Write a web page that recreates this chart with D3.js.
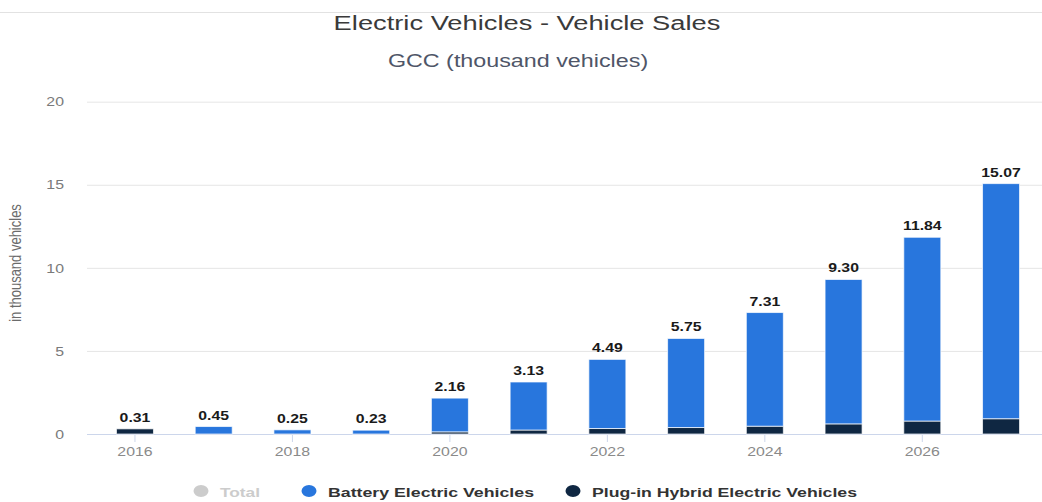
<!DOCTYPE html>
<html>
<head>
<meta charset="utf-8">
<script src="https://cdn.jsdelivr.net/npm/d3@7/dist/d3.min.js"></script>
<style>
  html, body { margin: 0; padding: 0; background: #fff; }
  svg { display: block; font-family: "Liberation Sans", Arial, Helvetica, sans-serif; }
</style>
</head>
<body>
<svg id="chart" width="1042" height="502"></svg>
<script>
// Annual EV sales in the GCC, thousand vehicles
const years = ["2016","2017","2018","2019","2020","2021","2022","2023","2024","2025","2026","2027"];
const bevSales  = [0.00, 0.45, 0.25, 0.23, 2.03, 2.89, 4.16, 5.36, 6.84, 8.69, 11.06, 14.15];
const phevSales = [0.31, 0.00, 0.00, 0.00, 0.13, 0.24, 0.33, 0.39, 0.47, 0.61, 0.78, 0.92];
const totals    = [0.31, 0.45, 0.25, 0.23, 2.16, 3.13, 4.49, 5.75, 7.31, 9.30, 11.84, 15.07];
const yTicks = [0, 5, 10, 15, 20];
const xTickYears = ["2016","2018","2020","2022","2024","2026"];
const legendItems = ["Total", "Battery Electric Vehicles", "Plug-in Hybrid Electric Vehicles"];

const colors = { bev: "#2876dd", phev: "#0f2742", total: "#cccccc" };

const svg = d3.select("#chart");
const plot = { left: 87, right: 1042, top: 101.7, bottom: 434 };

// widen a text horizontally about its own anchor point
function widen(sel, sx) {
  sel.each(function () {
    const t = d3.select(this);
    const tx = +t.attr("x") || 0, ty = +t.attr("y") || 0;
    t.attr("x", 0).attr("y", 0)
     .attr("transform", `translate(${tx},${ty}) scale(${sx},1)`);
  });
}

const x = d3.scaleBand()
  .domain(years)
  .range([95.6, 1040.4])
  .paddingInner(0.53)
  .paddingOuter(0.265);

const y = d3.scaleLinear().domain([0, 20]).range([plot.bottom, plot.top]);

// top separator line
svg.append("line")
  .attr("x1", 0).attr("x2", 1042).attr("y1", 12.5).attr("y2", 12.5)
  .attr("stroke", "#e2e2e2").attr("stroke-width", 1);

// titles
svg.append("text")
  .attr("x", 527).attr("y", 30)
  .attr("text-anchor", "middle")
  .attr("font-size", 21).attr("fill", "#3a3a3a")
  .call(widen, 1.3)
  .text("Electric Vehicles - Vehicle Sales");

svg.append("text")
  .attr("x", 518).attr("y", 67)
  .attr("text-anchor", "middle")
  .attr("font-size", 18.5).attr("fill", "#4f5668")
  .call(widen, 1.26)
  .text("GCC (thousand vehicles)");

// horizontal gridlines + y tick labels
const yAxis = d3.axisLeft(y).tickValues(yTicks).tickSize(-(plot.right - plot.left)).tickPadding(23);
const yg = svg.append("g").attr("transform", `translate(${plot.left},0)`).call(yAxis);
yg.select(".domain").remove();
yg.selectAll(".tick line").attr("stroke", "#e6e6e6").attr("stroke-width", 1);
yg.selectAll(".tick text")
  .attr("fill", "#7a7a7a").attr("font-size", 13)
  .attr("font-family", "Liberation Sans, Arial, sans-serif")
  .each(function () {
    const t = d3.select(this);
    t.attr("transform", `translate(${t.attr("x")},0) scale(1.22,1)`).attr("x", 0);
  });

// y axis title
svg.append("text")
  .attr("transform", "translate(21,263) scale(1.2,1) rotate(-90)")
  .attr("text-anchor", "middle")
  .attr("font-size", 13).attr("fill", "#6b6b6b")
  .text("in thousand vehicles");

// x axis baseline and ticks
const xAxis = d3.axisBottom(x).tickValues(xTickYears).tickSize(8).tickPadding(5).tickSizeOuter(0);
const xg = svg.append("g").attr("transform", `translate(0,${plot.bottom})`).call(xAxis);
xg.select(".domain").attr("d", `M${plot.left},0.5H${plot.right}`).attr("stroke", "#ccd6eb");
xg.selectAll(".tick line").attr("stroke", "#ccd6eb");
xg.selectAll(".tick text")
  .attr("fill", "#8a8a8a").attr("font-size", 13)
  .attr("font-family", "Liberation Sans, Arial, sans-serif")
  .each(function () {
    const t = d3.select(this);
    t.attr("transform", `translate(0,${t.attr("y")}) scale(1.22,1)`).attr("y", 0);
  });

// stacked bars: plug-in hybrids at the base, battery EVs on top
const rows = years.map((yr, i) => ({ year: yr, phev: phevSales[i], bev: bevSales[i], total: totals[i] }));
const stack = d3.stack().keys(["phev", "bev"])(rows);

svg.append("g").selectAll("g")
  .data(stack)
  .join("g")
  .attr("fill", d => colors[d.key])
  .selectAll("rect")
  .data(d => d.filter(s => s[1] - s[0] > 0))
  .join("rect")
  .attr("x", d => x(d.data.year))
  .attr("width", x.bandwidth())
  .attr("y", d => y(d[1]))
  .attr("height", d => y(d[0]) - y(d[1]))
  .attr("stroke", "#ffffff")
  .attr("stroke-opacity", 0.7)
  .attr("stroke-width", 1);

// total value labels
svg.append("g").selectAll("text")
  .data(rows)
  .join("text")
  .attr("x", d => x(d.year) + x.bandwidth() / 2)
  .attr("y", d => y(d.total) - 7)
  .attr("text-anchor", "middle")
  .attr("font-size", 13.5).attr("font-weight", "bold").attr("fill", "#1a1a1a")
  .text(d => d.total.toFixed(2))
  .call(widen, 1.17);

// legend
const legendX = [201, 309, 573];
const legendWidths = [40, 206, 265];
const legendColors = [colors.total, colors.bev, colors.phev];
const legendText = ["#cccccc", "#333333", "#333333"];
const lg = svg.append("g").attr("transform", "translate(0,491)");
legendItems.forEach((name, i) => {
  lg.append("ellipse").attr("cx", legendX[i]).attr("cy", 0).attr("rx", 7.5).attr("ry", 6).attr("fill", legendColors[i]);
  lg.append("text")
    .attr("x", legendX[i] + 19).attr("y", 5.5)
    .attr("font-size", 13.5).attr("font-weight", "bold").attr("fill", legendText[i])
    .attr("textLength", legendWidths[i]).attr("lengthAdjust", "spacingAndGlyphs")
    .text(name);
});
</script>
</body>
</html>
